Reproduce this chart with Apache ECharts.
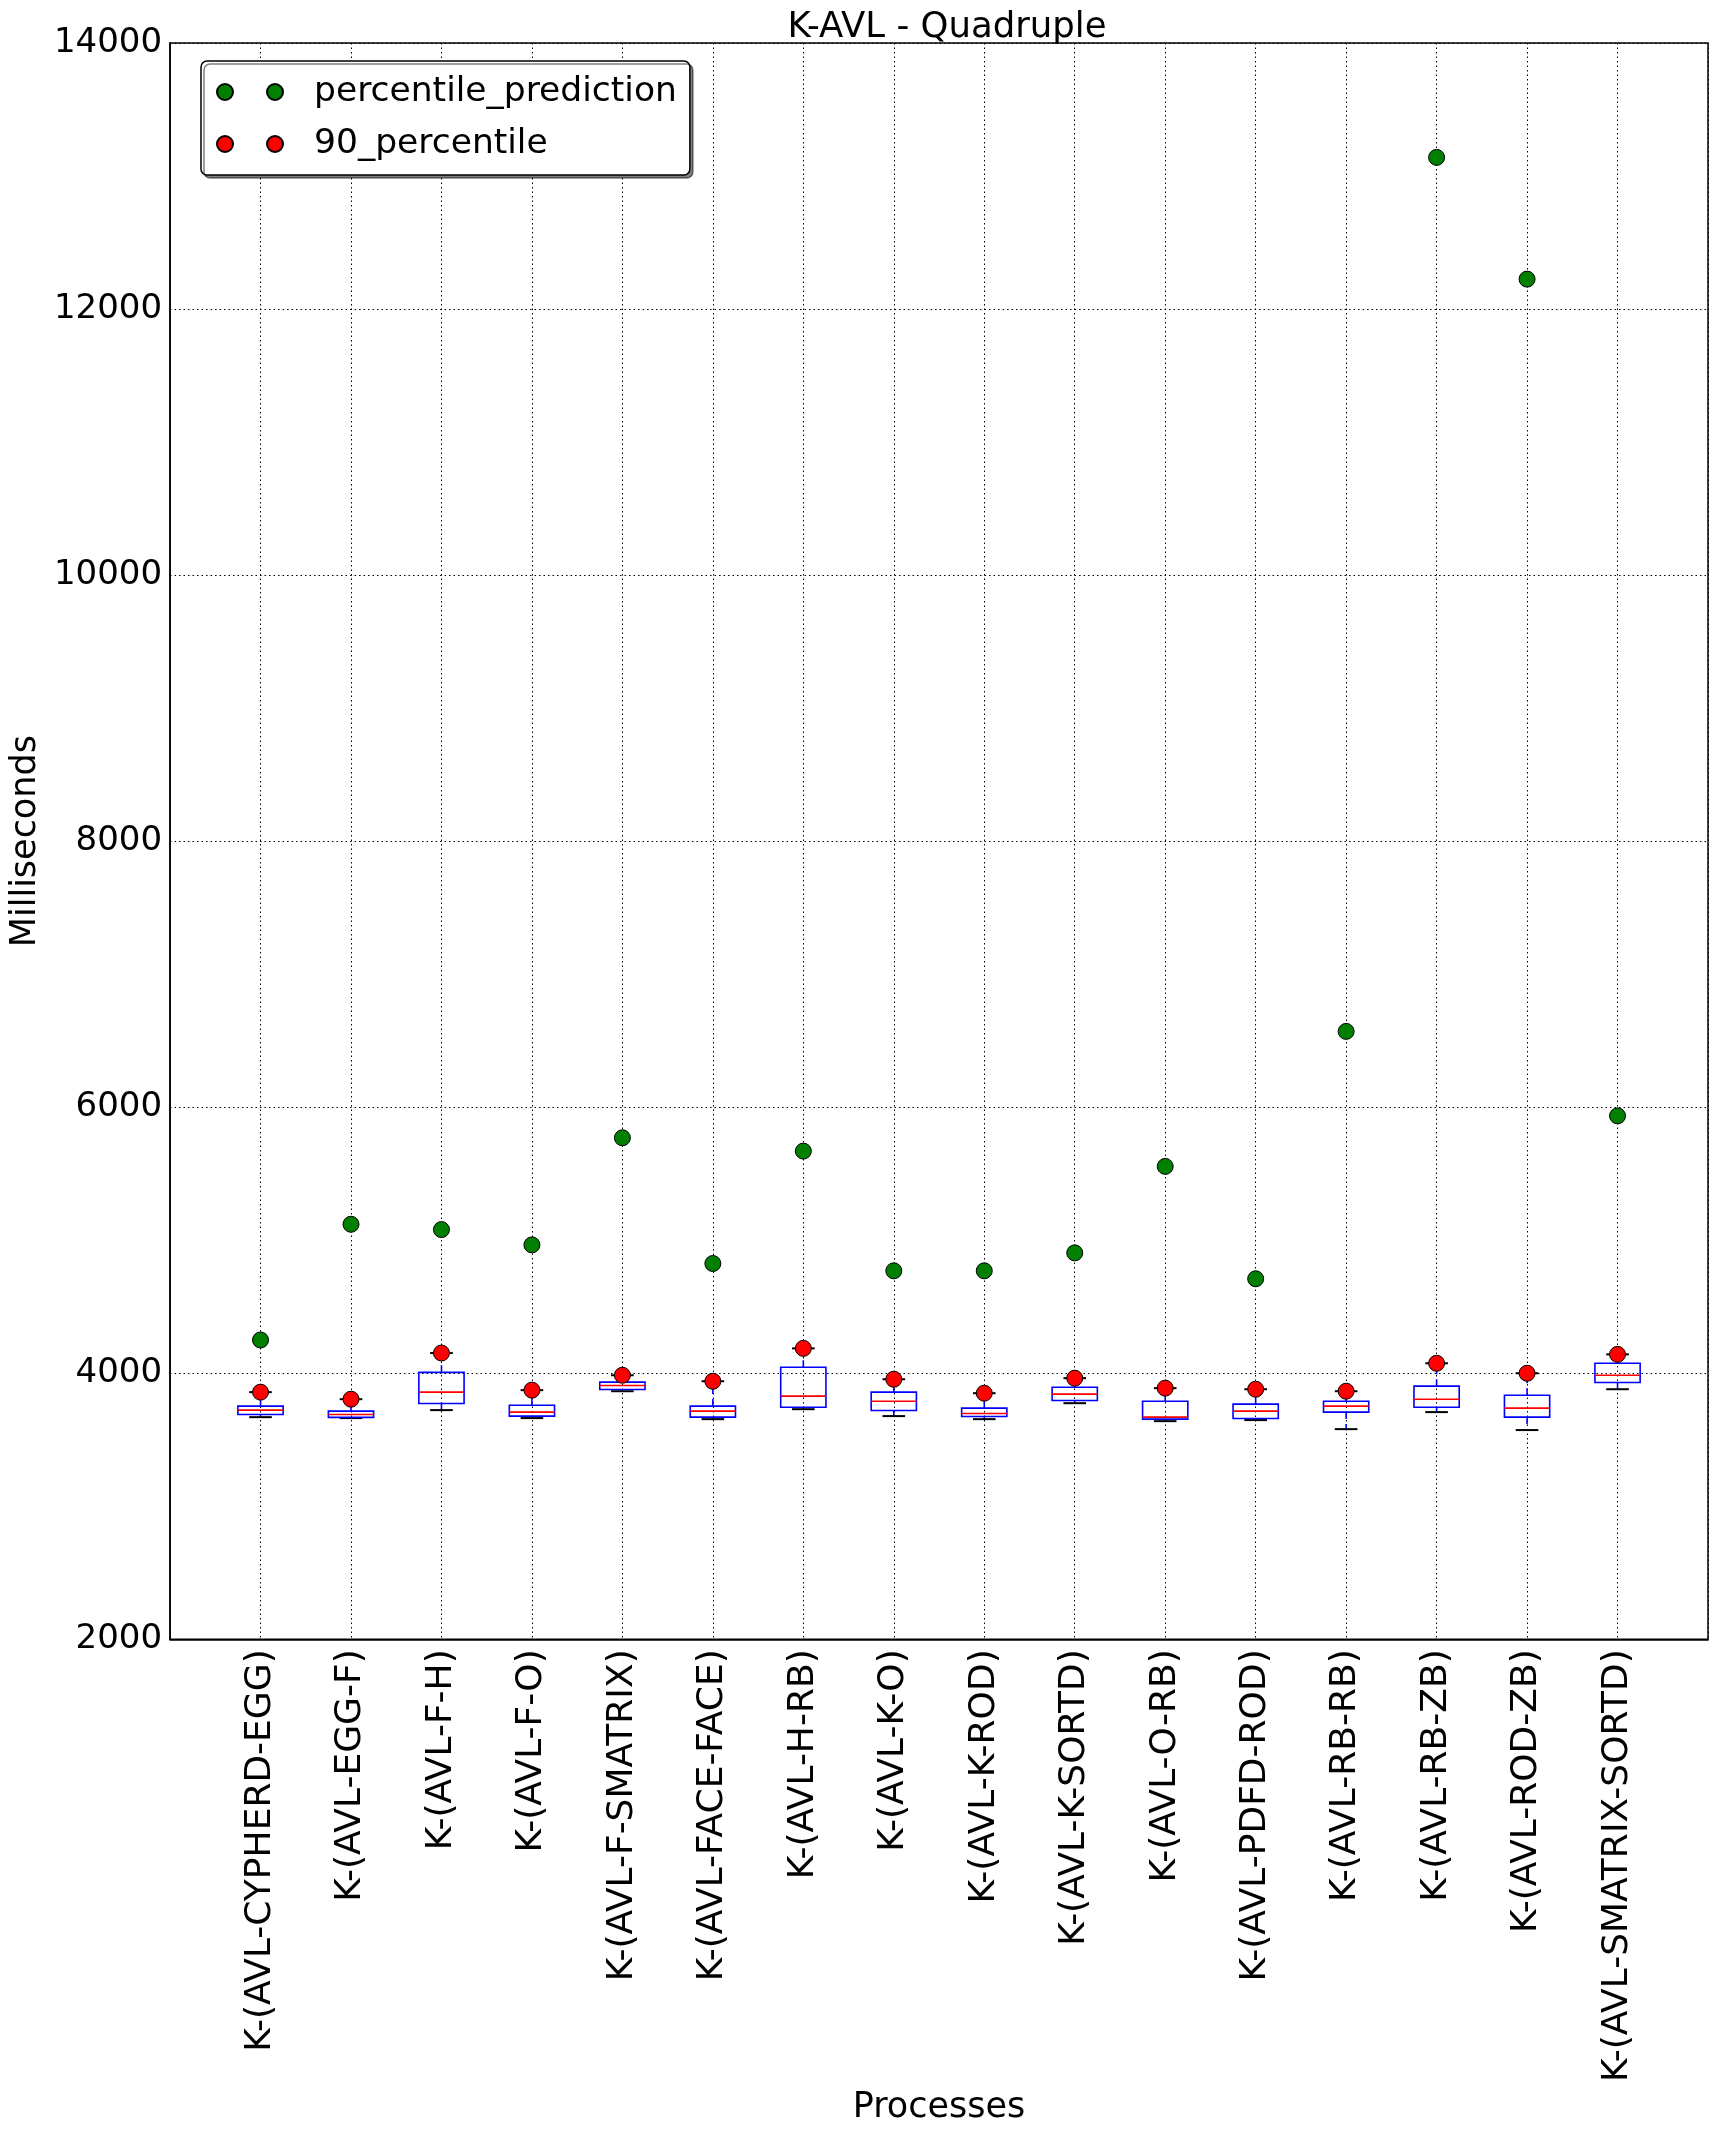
<!DOCTYPE html>
<html>
<head>
<meta charset="utf-8">
<script src="https://cdn.jsdelivr.net/npm/echarts@6/dist/echarts.min.js"></script>
<style>
html,body{margin:0;padding:0;background:#fff;}
#chart{width:1726px;height:2130px;}
</style>
</head>
<body>
<div id="chart"></div>
<script>
const categories = ['K-(AVL-CYPHERD-EGG)','K-(AVL-EGG-F)','K-(AVL-F-H)','K-(AVL-F-O)','K-(AVL-F-SMATRIX)','K-(AVL-FACE-FACE)','K-(AVL-H-RB)','K-(AVL-K-O)','K-(AVL-K-ROD)','K-(AVL-K-SORTD)','K-(AVL-O-RB)','K-(AVL-PDFD-ROD)','K-(AVL-RB-RB)','K-(AVL-RB-ZB)','K-(AVL-ROD-ZB)','K-(AVL-SMATRIX-SORTD)'];
const percentilePrediction = [4250, 5120, 5080, 4965, 5770, 4825, 5670, 4770, 4770, 4905, 5555, 4710, 6570, 13140, 12225, 5935];
const percentile90 = [3858, 3805, 4152, 3873, 3985, 3940, 4187, 3955, 3850, 3963, 3888, 3880, 3865, 4075, 4000, 4142];
const whiskerHigh = [3858, 3805, 4152, 3873, 3985, 3940, 4187, 3955, 3850, 3963, 3888, 3880, 3865, 4075, 4000, 4142];
const q3 = [3753, 3715, 4007, 3760, 3933, 3753, 4045, 3858, 3738, 3895, 3790, 3768, 3790, 3903, 3835, 4075];
const median = [3723, 3690, 3858, 3708, 3908, 3715, 3828, 3790, 3698, 3843, 3670, 3715, 3753, 3805, 3738, 3985];
const q1 = [3690, 3668, 3773, 3678, 3878, 3670, 3745, 3720, 3675, 3795, 3655, 3660, 3708, 3745, 3670, 3930];
const whiskerLow = [3670, 3663, 3723, 3663, 3865, 3655, 3730, 3678, 3655, 3775, 3640, 3648, 3580, 3708, 3573, 3880];
const yTicks = [2000, 4000, 6000, 8000, 10000, 12000, 14000];

const FONT = 'DejaVu Sans';
const axisCategories = [''].concat(categories, [' ']);

const boxData = categories.map((c, i) => [c, whiskerLow[i], q1[i], median[i], q3[i], whiskerHigh[i]]);
const predData = categories.map((c, i) => [c, percentilePrediction[i]]);
const p90Data = categories.map((c, i) => [c, percentile90[i]]);

function renderBox(params, api) {
  const x = api.value(0);
  const pLow = api.coord([x, api.value(1)]);
  const pQ1 = api.coord([x, api.value(2)]);
  const pMed = api.coord([x, api.value(3)]);
  const pQ3 = api.coord([x, api.value(4)]);
  const pHigh = api.coord([x, api.value(5)]);
  const band = api.size([1, 0])[0];
  const cx = pMed[0];
  const bw = band * 0.25, cw = band * 0.125;
  const blue = '#0000ff';
  return {
    type: 'group',
    children: [
      {type: 'line', shape: {x1: cx, y1: pQ1[1], x2: cx, y2: pLow[1]}, style: {stroke: blue, lineWidth: 1.6, lineDash: [7, 5]}},
      {type: 'line', shape: {x1: cx, y1: pQ3[1], x2: cx, y2: pHigh[1]}, style: {stroke: blue, lineWidth: 1.6, lineDash: [7, 5]}},
      {type: 'line', shape: {x1: cx - cw, y1: pLow[1], x2: cx + cw, y2: pLow[1]}, style: {stroke: '#000', lineWidth: 2}},
      {type: 'line', shape: {x1: cx - cw, y1: pHigh[1], x2: cx + cw, y2: pHigh[1]}, style: {stroke: '#000', lineWidth: 2}},
      {type: 'rect', shape: {x: cx - bw, y: pQ3[1], width: 2 * bw, height: pQ1[1] - pQ3[1]}, style: {fill: 'none', stroke: blue, lineWidth: 1.6}},
      {type: 'line', shape: {x1: cx - bw, y1: pMed[1], x2: cx + bw, y2: pMed[1]}, style: {stroke: '#ff0000', lineWidth: 1.6}}
    ]
  };
}

const twoDots = 'path://M0,8a8,8 0 1,0 16,0a8,8 0 1,0 -16,0M50,8a8,8 0 1,0 16,0a8,8 0 1,0 -16,0';

const chart = echarts.init(document.getElementById('chart'), null, {renderer: 'canvas'});
chart.setOption({
  animation: false,
  backgroundColor: '#fff',
  title: {
    text: 'K-AVL - Quadruple',
    left: 942,
    textAlign: 'center',
    top: 5,
    textStyle: {fontFamily: FONT, fontSize: 35.5, fontWeight: 'normal', color: '#000'}
  },
  legend: {
    orient: 'vertical',
    left: 201,
    top: 61,
    data: ['percentile_prediction', '90_percentile'],
    icon: twoDots,
    itemWidth: 66,
    itemHeight: 16,
    itemGap: 12,
    padding: [11, 13, 11, 15],
    borderColor: '#000',
    borderWidth: 1.5,
    borderRadius: 6,
    backgroundColor: '#fff',
    shadowColor: 'rgba(0,0,0,0.5)',
    shadowOffsetX: 3,
    shadowOffsetY: 3,
    shadowBlur: 0,
    selectedMode: false,
    textStyle: {fontFamily: FONT, fontSize: 34.5, color: '#000', lineHeight: 40, padding: [0, 0, 0, 26]}
  },
  grid: {left: 167, right: 9, top: 43, bottom: 487, show: true, borderColor: '#000', borderWidth: 1.5, backgroundColor: 'transparent'},
  xAxis: {
    type: 'category',
    data: axisCategories,
    boundaryGap: false,
    name: 'Processes',
    nameLocation: 'middle',
    nameGap: 442,
    nameTextStyle: {fontFamily: FONT, fontSize: 35, color: '#000'},
    axisLine: {show: true, lineStyle: {color: '#000', width: 1.5}},
    axisTick: {show: false},
    axisLabel: {rotate: 90, margin: 10, fontFamily: FONT, fontSize: 36, color: '#000', interval: 0},
    splitLine: {show: true, interval: 0, lineStyle: {color: '#000', width: 1, type: [1.5, 3]}}
  },
  yAxis: {
    type: 'value',
    min: yTicks[0],
    max: yTicks[yTicks.length - 1],
    interval: yTicks[1] - yTicks[0],
    name: 'Milliseconds',
    nameLocation: 'middle',
    nameGap: 122,
    nameTextStyle: {fontFamily: FONT, fontSize: 35, color: '#000'},
    axisLine: {show: true, lineStyle: {color: '#000', width: 1.5}},
    axisTick: {show: false},
    axisLabel: {margin: 8, fontFamily: FONT, fontSize: 34, color: '#000', formatter: v => String(v)},
    splitLine: {show: true, lineStyle: {color: '#000', width: 1, type: [1.5, 3]}}
  },
  series: [
    {
      type: 'custom',
      name: 'boxes',
      renderItem: renderBox,
      encode: {x: 0, y: [1, 2, 3, 4, 5]},
      data: boxData,
      z: 2
    },
    {
      type: 'scatter',
      name: 'percentile_prediction',
      data: predData,
      symbol: 'circle',
      symbolSize: 16,
      itemStyle: {color: '#007f00', borderColor: '#000', borderWidth: 1, opacity: 1},
      z: 4
    },
    {
      type: 'scatter',
      name: '90_percentile',
      data: p90Data,
      symbol: 'circle',
      symbolSize: 16,
      itemStyle: {color: '#ff0000', borderColor: '#000', borderWidth: 1, opacity: 1},
      z: 3
    }
  ]
});
</script>
</body>
</html>
